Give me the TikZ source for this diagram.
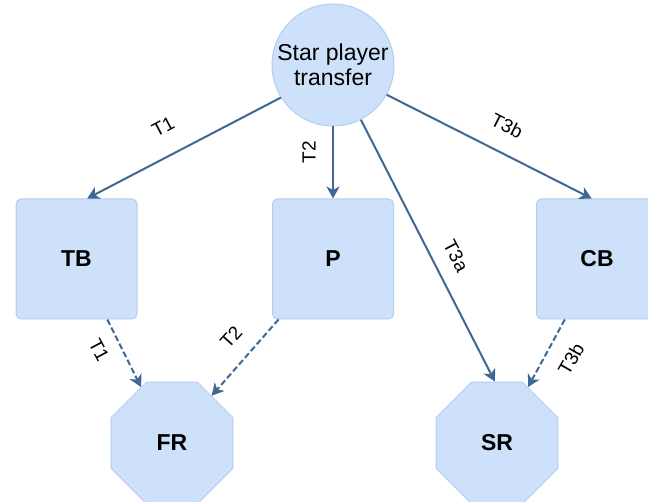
\documentclass[tikz,border=0pt]{standalone}
\usepackage{fontspec}
\setmainfont{Liberation Sans}
\usetikzlibrary{shapes.geometric,arrows.meta}
\definecolor{boxfill}{RGB}{205,225,250}
\definecolor{boxline}{RGB}{180,205,240}
\definecolor{arrowcol}{RGB}{64,104,148}
\tikzset{
  shapebase/.style={fill=boxfill,draw=boxline,line width=1pt,inner sep=0pt,align=center,text=black},
  circ/.style={shapebase,circle,minimum size=122pt,font=\fontsize{23}{25}\selectfont},
  sq/.style={shapebase,rectangle,rounded corners=5pt,minimum width=121pt,minimum height=120pt,font=\fontsize{23}{26}\selectfont\bfseries},
  oct/.style={shapebase,regular polygon,regular polygon sides=8,minimum size=132pt,font=\fontsize{23}{26}\selectfont\bfseries},
  arr/.style={draw=arrowcol,line width=2pt,-{Stealth[length=12pt,width=13pt,inset=3.5pt]}},
  dsh/.style={arr,dash pattern=on 6pt off 3pt},
  lbl/.style={font=\fontsize{19}{21}\selectfont,inner sep=0pt,text=black}
}
\begin{document}
\begin{tikzpicture}[x=1pt,y=1pt]
\useasboundingbox (0,0) rectangle (648,-502);
\fill[white] (0,0) rectangle (648,-502);
\node[circ] (star) at (333,-65) {Star player\\transfer};
\node[sq] (tb) at (76.5,-259) {TB};
\node[sq] (p) at (333,-259) {P};
\node[sq] (cb) at (597,-259) {CB};
\node[oct] (fr) at (172,-443) {FR};
\node[oct] (sr) at (497,-443) {SR};
\draw[arr] (star.212) -- (tb.80);
\draw[arr] (star.south) -- (p.north);
\draw[arr] (star.297) -- (sr.92);
\draw[arr] (star.331) -- (cb.95);
\draw[dsh] (tb.297) -- (fr.119);
\draw[dsh] (p.228) -- (fr.50);
\draw[dsh] (cb.242) -- (sr.61);
\node[lbl,rotate=28] (l1) at (163,-127) {T1};
\node[lbl,rotate=90] (l2) at (309,-152) {T2};
\node[lbl,rotate=-62] (l3) at (456,-256) {T3a};
\node[lbl,rotate=-27] (l4) at (507,-126) {T3b};
\node[lbl,rotate=-62] (l5) at (99,-350) {T1};
\node[lbl,rotate=48] (l6) at (231,-337) {T2};
\node[lbl,rotate=60] (l7) at (571,-359) {T3b};
\end{tikzpicture}
\end{document}
